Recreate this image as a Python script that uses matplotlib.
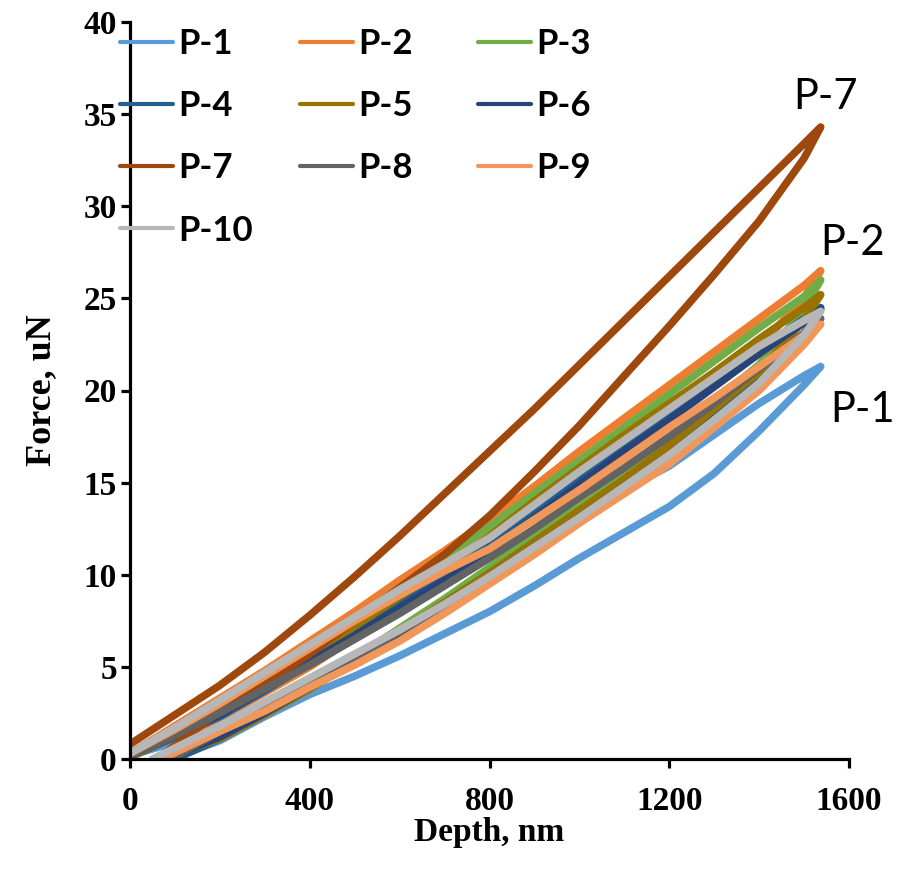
import matplotlib
matplotlib.use("Agg")
import matplotlib.pyplot as plt
from matplotlib.font_manager import FontProperties

# depth grid (nm) for the branch that starts at the surface and ends at max load
depth_upper = [0, 100, 200, 300, 400, 500, 600, 700, 800, 900,
               1000, 1100, 1200, 1300, 1400, 1500, 1537]
# the other branch ends at a residual depth (listed per series), same grid above 200 nm
depth_lower = [200, 300, 400, 500, 600, 700, 800, 900,
               1000, 1100, 1200, 1300, 1400, 1500, 1537]

names = ["P-1", "P-2", "P-3", "P-4", "P-5", "P-6", "P-7", "P-8", "P-9", "P-10"]
colors = ["#5B9BD5", "#ED7D31", "#70AD47", "#255E91", "#997300",
          "#264478", "#9E480E", "#636363", "#F1975A", "#B7B7B7"]

residual = [90, 60, 90, 100, 70, 80, 60, 90, 70, 50]

p1_upper = [0.2, 0.9, 1.7, 2.9, 4.1, 5.3, 6.6, 8.1, 9.8, 11.6, 13.2, 14.6, 15.9, 17.6, 19.3, 20.8, 21.3]
p1_lower = [1.0, 2.3, 3.5, 4.5, 5.6, 6.8, 8.0, 9.4, 10.9, 12.3, 13.7, 15.5, 17.8, 20.3, 21.3]
p2_upper = [0.3, 1.8, 3.3, 4.8, 6.4, 8.0, 9.7, 11.3, 13.0, 14.8, 16.7, 18.5, 20.3, 22.1, 23.9, 25.7, 26.5]
p2_lower = [2.2, 3.6, 5.0, 6.6, 8.2, 9.8, 11.5, 13.2, 15.0, 16.8, 18.6, 20.5, 22.4, 25.0, 26.5]
p3_upper = [0.2, 1.5, 2.9, 4.4, 6.0, 7.6, 9.3, 10.9, 12.6, 14.4, 16.2, 18.0, 19.8, 21.6, 23.4, 25.1, 26.0]
p3_lower = [1.2, 2.6, 4.0, 5.5, 7.1, 8.7, 10.4, 12.1, 13.9, 15.6, 17.4, 19.4, 21.4, 24.4, 26.0]
p4_upper = [0.1, 1.2, 2.3, 3.7, 5.2, 6.8, 8.4, 10.0, 11.6, 13.4, 15.2, 17.0, 18.7, 20.5, 22.2, 23.9, 24.5]
p4_lower = [1.1, 2.5, 3.9, 5.3, 6.8, 8.4, 10.0, 11.6, 13.3, 15.0, 16.8, 18.7, 20.6, 23.1, 24.5]
p5_upper = [0.1, 1.3, 2.6, 4.1, 5.6, 7.2, 8.8, 10.4, 12.1, 14.0, 15.8, 17.6, 19.3, 21.0, 22.8, 24.5, 25.2]
p5_lower = [1.1, 2.4, 3.8, 5.3, 6.9, 8.5, 10.1, 11.8, 13.5, 15.2, 17.0, 19.0, 21.0, 23.8, 25.2]
p6_upper = [0.2, 1.3, 2.4, 3.8, 5.3, 6.7, 8.2, 9.7, 11.3, 13.1, 14.9, 16.7, 18.4, 20.2, 22.0, 23.7, 24.4]
p6_lower = [1.2, 2.5, 3.9, 5.3, 6.7, 8.3, 9.9, 11.5, 13.1, 14.8, 16.5, 18.4, 20.4, 23.0, 24.4]
p7_upper = [0.8, 2.4, 4.0, 5.8, 7.8, 9.9, 12.1, 14.4, 16.7, 19.0, 21.4, 23.8, 26.2, 28.6, 31.0, 33.4, 34.3]
p7_lower = [2.6, 4.1, 5.7, 7.5, 9.3, 11.1, 13.2, 15.6, 18.1, 20.8, 23.5, 26.3, 29.2, 32.6, 34.3]
p8_upper = [0.2, 1.3, 2.5, 3.8, 5.1, 6.5, 7.9, 9.4, 10.9, 12.5, 14.2, 15.8, 17.5, 19.3, 21.2, 23.1, 23.9]
p8_lower = [1.5, 2.8, 4.1, 5.5, 6.9, 8.4, 9.9, 11.5, 13.1, 14.7, 16.4, 18.3, 20.2, 22.8, 23.9]
p9_upper = [0.3, 1.6, 3.0, 4.5, 6.0, 7.5, 8.9, 10.2, 11.4, 13.0, 14.6, 16.3, 18.0, 19.6, 21.3, 23.0, 23.6]
p9_lower = [1.5, 2.6, 3.9, 5.1, 6.4, 7.9, 9.5, 11.1, 12.8, 14.4, 16.0, 18.0, 20.0, 22.5, 23.6]
p10_upper = [0.3, 1.7, 3.2, 4.7, 6.2, 7.7, 9.2, 10.6, 12.0, 13.8, 15.6, 17.3, 19.0, 20.7, 22.4, 23.8, 24.3]
p10_lower = [1.8, 3.1, 4.4, 5.7, 7.0, 8.4, 9.9, 11.5, 13.1, 14.8, 16.5, 18.4, 20.4, 23.0, 24.3]

uppers = [p1_upper, p2_upper, p3_upper, p4_upper, p5_upper,
          p6_upper, p7_upper, p8_upper, p9_upper, p10_upper]
lowers = [p1_lower, p2_lower, p3_lower, p4_lower, p5_lower,
          p6_lower, p7_lower, p8_lower, p9_lower, p10_lower]

# labels written next to the curve tips: (text, depth, force)
tip_labels = [("P-7", 1475, 35.3), ("P-2", 1535, 27.35), ("P-1", 1558, 18.3)]

W, H = 902, 873
fig = plt.figure(figsize=(W / 100, H / 100), dpi=100)
ax = fig.add_axes([130 / W, 114 / H, 719 / W, 737 / H])

lines = []
for name, col, res, up, lo in zip(names, colors, residual, uppers, lowers):
    # up one branch to the tip, back down the other
    xs = depth_upper + depth_lower[::-1] + [res]
    ys = up + lo[::-1] + [0]
    ln, = ax.plot(xs, ys, color=col, lw=5.5, label=name,
                  solid_joinstyle="round", solid_capstyle="round")
    lines.append(ln)

ax.set_xlim(0, 1600)
ax.set_ylim(0, 40)
ax.set_xticks([0, 400, 800, 1200, 1600])
ax.set_yticks(range(0, 41, 5))

for s in ["top", "right"]:
    ax.spines[s].set_visible(False)
for s in ["left", "bottom"]:
    ax.spines[s].set_linewidth(2.3)

tick_fp = FontProperties(family="Liberation Serif", weight="bold", size=24)
ax.tick_params(axis="both", direction="out", length=6.5, width=2.3)
ax.tick_params(axis="x", pad=13)
ax.tick_params(axis="y", pad=3)
for lab in ax.get_xticklabels() + ax.get_yticklabels():
    lab.set_fontproperties(tick_fp)

ax.set_xlabel("Depth, nm", fontfamily="Liberation Serif", fontweight="bold",
              fontsize=24, labelpad=0)
ax.set_ylabel("Force, uN", fontfamily="Liberation Serif", fontweight="bold",
              fontsize=26, labelpad=18)

for txt, x, y in tip_labels:
    ax.text(x, y, txt, fontfamily="Lato", fontsize=30, ha="left",
            va="baseline", clip_on=False)

# legend: three separate columns placed like the original
col_left = [120, 300, 478]
for c in range(3):
    hs = lines[c::3]
    leg = fig.legend(handles=hs, labels=[h.get_label() for h in hs],
                     loc="upper left",
                     bbox_to_anchor=(col_left[c] / W, 1 - 28 / H),
                     bbox_transform=fig.transFigure, frameon=False,
                     borderpad=0, borderaxespad=0, handlelength=1.53,
                     handletextpad=0.15, labelspacing=0.87,
                     prop={"family": "Lato", "weight": "bold", "size": 25})
    for h in leg.get_lines():
        h.set_linewidth(3)

fig.savefig("out.png", dpi=100)
